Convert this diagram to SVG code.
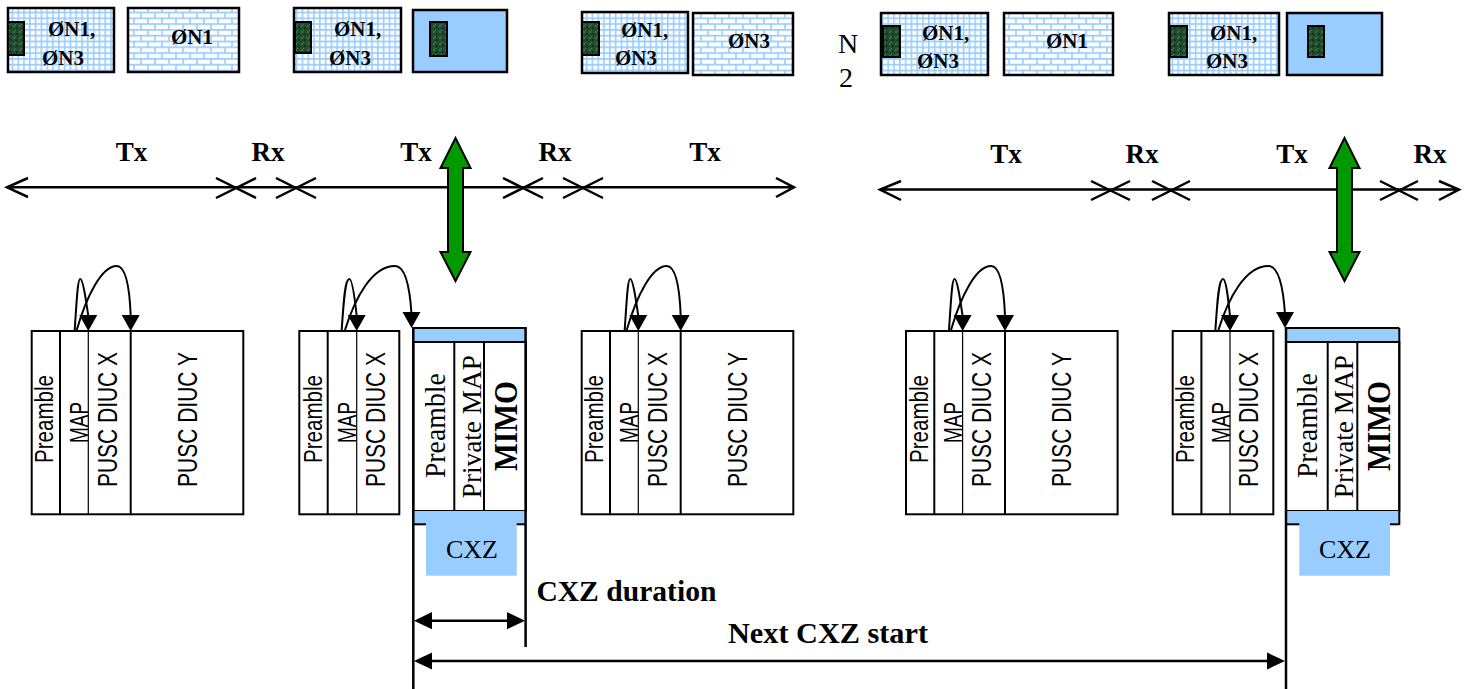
<svg xmlns="http://www.w3.org/2000/svg" width="1468" height="689" viewBox="0 0 1468 689">
<style>
.bx{stroke:#000;stroke-width:2.5}
.grid{fill:url(#grid)}
.brick{fill:url(#brick)}
.blue{fill:#99ccff}
.moss{fill:url(#moss);stroke:#000;stroke-width:2}
.bt{font-family:"Liberation Serif",serif;font-weight:bold;font-size:21px;fill:#000}
.lbl{font-family:"Liberation Serif",serif;font-weight:bold;font-size:27px;fill:#000;text-anchor:middle}
.big{font-family:"Liberation Serif",serif;font-weight:bold;font-size:30px;fill:#000}
.nn{font-family:"Liberation Serif",serif;font-size:28px;fill:#000;text-anchor:middle}
.blk{fill:#fff;stroke:#000;stroke-width:2}
.dv{stroke:#000;stroke-width:2}
.dvt{stroke:#000;stroke-width:1.2}
.sans{font-family:"Liberation Sans",Arial,sans-serif;fill:#000;text-anchor:middle}
.ser{font-family:"Liberation Serif",serif;fill:#000;text-anchor:middle}
.ln{stroke:#000;stroke-width:2.5;fill:none}
.cv{stroke:#000;stroke-width:2;fill:none}
.ga{fill:#009900;stroke:#000;stroke-width:2}
.ah{fill:#000}
</style>
<defs>
<pattern id="grid" width="5.8" height="5.8" patternUnits="userSpaceOnUse">
<rect width="5.8" height="5.8" fill="#fff"/>
<path d="M0,0.8H5.8M0.8,0V5.8" stroke="#99ccff" stroke-width="1.6"/>
</pattern>
<pattern id="brick" width="14" height="11.6" patternUnits="userSpaceOnUse">
<rect width="14" height="11.6" fill="#fff"/>
<path d="M0,0.8H14M0,6.6H14M1,0.8V6.6M8,6.6V11.6" stroke="#99ccff" stroke-width="1.6"/>
</pattern>
<pattern id="moss" width="6" height="6" patternUnits="userSpaceOnUse">
<rect width="6" height="6" fill="#1f4a2c"/>
<rect x="1" y="1" width="2" height="2" fill="#3b6e4a"/>
<rect x="4" y="3" width="1.5" height="2" fill="#0f2e19"/>
<rect x="3" y="0" width="1" height="1" fill="#4f8060"/>
</pattern>
<path id="ahd" d="M-9,-16 L9,-16 L0,0 Z"/>
</defs>

<!-- top boxes -->
<g id="box1"><rect class="bx grid" x="8" y="8" width="106" height="64"/><rect class="moss" x="8" y="22" width="16" height="33"/><text class="bt" x="48" y="36">ØN1,</text><text class="bt" x="42" y="65">ØN3</text></g>
<g id="box2"><rect class="bx brick" x="128" y="8" width="111" height="64"/><text class="bt" x="171" y="44">ØN1</text></g>
<g id="box3"><rect class="bx grid" x="294" y="8" width="107" height="64"/><rect class="moss" x="295" y="22" width="16" height="31"/><text class="bt" x="334" y="36">ØN1,</text><text class="bt" x="329" y="65">ØN3</text></g>
<g id="box4"><rect class="bx blue" x="413" y="10" width="94" height="62"/><rect class="moss" x="430" y="22" width="17" height="34"/></g>
<g id="box5"><rect class="bx grid" x="582" y="12" width="106" height="61"/><rect class="moss" x="582" y="22" width="17" height="33"/><text class="bt" x="621" y="37">ØN1,</text><text class="bt" x="615" y="65">ØN3</text></g>
<g id="box6"><rect class="bx brick" x="693" y="13" width="100" height="62"/><text class="bt" x="728" y="48">ØN3</text></g>
<g id="n2"><text class="nn" x="848" y="53">N</text><text class="nn" x="846" y="87">2</text></g>
<g id="box7"><rect class="bx grid" x="881" y="13" width="107" height="62"/><rect class="moss" x="883" y="26" width="17" height="31"/><text class="bt" x="922" y="40">ØN1,</text><text class="bt" x="917" y="68">ØN3</text></g>
<g id="box8"><rect class="bx brick" x="1004" y="13" width="109" height="62"/><text class="bt" x="1046" y="48">ØN1</text></g>
<g id="box9"><rect class="bx grid" x="1169" y="13" width="110" height="62"/><rect class="moss" x="1170" y="26" width="17" height="31"/><text class="bt" x="1210" y="40">ØN1,</text><text class="bt" x="1206" y="68">ØN3</text></g>
<g id="box10"><rect class="bx blue" x="1287" y="13" width="95" height="62"/><rect class="moss" x="1308" y="26" width="16" height="31"/></g>

<!-- timeline labels -->
<g id="labels1">
<text class="lbl" x="131.5" y="161">Tx</text><text class="lbl" x="268" y="161">Rx</text><text class="lbl" x="416" y="161">Tx</text><text class="lbl" x="555" y="161">Rx</text><text class="lbl" x="705" y="161">Tx</text>
</g>
<g id="labels2">
<text class="lbl" x="1006" y="163">Tx</text><text class="lbl" x="1142" y="163">Rx</text><text class="lbl" x="1292" y="163">Tx</text><text class="lbl" x="1430" y="163">Rx</text>
</g>

<!-- frame blocks -->
<g id="frameA">
<rect class="blk" x="31.7" y="331" width="211.6" height="183.3"/>
<line class="dv" x1="60" y1="331" x2="60" y2="514"/><line class="dvt" x1="88.3" y1="331" x2="88.3" y2="514"/><line class="dv" x1="130.7" y1="331" x2="130.7" y2="514"/>
<text class="sans" font-size="22" textLength="88" lengthAdjust="spacingAndGlyphs" transform="translate(53.3,419) rotate(-90) scale(1,1.2)">Preamble</text>
<text class="sans" font-size="22" textLength="41" lengthAdjust="spacingAndGlyphs" transform="translate(88,422.5) rotate(-90) scale(1,1.15)">MAP</text>
<text class="sans" font-size="25" textLength="135" lengthAdjust="spacingAndGlyphs" transform="translate(117,419.5) rotate(-90) scale(1,1.1)">PUSC DIUC X</text>
<text class="sans" font-size="25" textLength="135" lengthAdjust="spacingAndGlyphs" transform="translate(196.7,419.5) rotate(-90) scale(1,1.1)">PUSC DIUC Y</text>
</g>
<g id="frameB">
<rect class="blk" x="299.3" y="331" width="100" height="183.3"/>
<line class="dv" x1="327.7" y1="331" x2="327.7" y2="514"/><line class="dvt" x1="356.7" y1="331" x2="356.7" y2="514"/>
<text class="sans" font-size="22" textLength="88" lengthAdjust="spacingAndGlyphs" transform="translate(321.7,419) rotate(-90) scale(1,1.2)">Preamble</text>
<text class="sans" font-size="22" textLength="41" lengthAdjust="spacingAndGlyphs" transform="translate(356.4,422.5) rotate(-90) scale(1,1.15)">MAP</text>
<text class="sans" font-size="25" textLength="135" lengthAdjust="spacingAndGlyphs" transform="translate(385,419.5) rotate(-90) scale(1,1.1)">PUSC DIUC X</text>
</g>
<g id="frameC">
<rect class="blue" x="413.3" y="328" width="112.7" height="14"/>
<rect class="blk" x="413.3" y="342" width="112.7" height="169"/>
<rect class="blue" x="413.3" y="511" width="112.7" height="13.3"/>
<rect class="blue" x="426" y="524" width="90.7" height="51.7"/>
<line class="dv" x1="413.3" y1="328" x2="526" y2="328"/>
<line class="dv" x1="413.3" y1="524.3" x2="426" y2="524.3"/><line class="dv" x1="516.7" y1="524.3" x2="526" y2="524.3"/>
<line class="dv" x1="454.3" y1="342" x2="454.3" y2="511"/><line class="dv" x1="484" y1="342" x2="484" y2="511"/>
<text class="ser" font-size="29" textLength="105" lengthAdjust="spacingAndGlyphs" transform="translate(445,425.6) rotate(-90) scale(1,1.05)">Preamble</text>
<text class="ser" font-size="28" textLength="143" lengthAdjust="spacingAndGlyphs" transform="translate(480.7,426.7) rotate(-90)">Private MAP</text>
<text class="ser" font-size="32" font-weight="bold" textLength="90" lengthAdjust="spacingAndGlyphs" transform="translate(516.7,426) rotate(-90) scale(1,1.05)">MIMO</text>
<text class="ser" font-size="26" textLength="52" lengthAdjust="spacingAndGlyphs" x="472" y="558.3">CXZ</text>
</g>
<g id="frameG">
<rect class="blk" x="581.7" y="331" width="211.6" height="183.3"/>
<line class="dv" x1="610" y1="331" x2="610" y2="514"/><line class="dvt" x1="638.3" y1="331" x2="638.3" y2="514"/><line class="dv" x1="680.7" y1="331" x2="680.7" y2="514"/>
<text class="sans" font-size="22" textLength="88" lengthAdjust="spacingAndGlyphs" transform="translate(603.3,419) rotate(-90) scale(1,1.2)">Preamble</text>
<text class="sans" font-size="22" textLength="41" lengthAdjust="spacingAndGlyphs" transform="translate(638,422.5) rotate(-90) scale(1,1.15)">MAP</text>
<text class="sans" font-size="25" textLength="135" lengthAdjust="spacingAndGlyphs" transform="translate(667,419.5) rotate(-90) scale(1,1.1)">PUSC DIUC X</text>
<text class="sans" font-size="25" textLength="135" lengthAdjust="spacingAndGlyphs" transform="translate(746.7,419.5) rotate(-90) scale(1,1.1)">PUSC DIUC Y</text>
</g>
<g id="frameF">
<rect class="blk" x="906" y="331" width="211.6" height="183.3"/>
<line class="dv" x1="934.3" y1="331" x2="934.3" y2="514"/><line class="dvt" x1="962.6" y1="331" x2="962.6" y2="514"/><line class="dv" x1="1005" y1="331" x2="1005" y2="514"/>
<text class="sans" font-size="22" textLength="88" lengthAdjust="spacingAndGlyphs" transform="translate(927.6,419) rotate(-90) scale(1,1.2)">Preamble</text>
<text class="sans" font-size="22" textLength="41" lengthAdjust="spacingAndGlyphs" transform="translate(962.3,422.5) rotate(-90) scale(1,1.15)">MAP</text>
<text class="sans" font-size="25" textLength="135" lengthAdjust="spacingAndGlyphs" transform="translate(991.3,419.5) rotate(-90) scale(1,1.1)">PUSC DIUC X</text>
<text class="sans" font-size="25" textLength="135" lengthAdjust="spacingAndGlyphs" transform="translate(1071,419.5) rotate(-90) scale(1,1.1)">PUSC DIUC Y</text>
</g>
<g id="frameD">
<rect class="blk" x="1172.7" y="331" width="100.6" height="183.3"/>
<line class="dv" x1="1201.4" y1="331" x2="1201.4" y2="514"/><line class="dvt" x1="1230" y1="331" x2="1230" y2="514"/>
<text class="sans" font-size="22" textLength="88" lengthAdjust="spacingAndGlyphs" transform="translate(1194,419) rotate(-90) scale(1,1.2)">Preamble</text>
<text class="sans" font-size="22" textLength="41" lengthAdjust="spacingAndGlyphs" transform="translate(1229.7,422.5) rotate(-90) scale(1,1.15)">MAP</text>
<text class="sans" font-size="25" textLength="135" lengthAdjust="spacingAndGlyphs" transform="translate(1258.3,419.5) rotate(-90) scale(1,1.1)">PUSC DIUC X</text>
</g>
<g id="frameE">
<rect class="blue" x="1286" y="328" width="113.3" height="14"/>
<rect class="blk" x="1286" y="342" width="113.3" height="169"/>
<rect class="blue" x="1286" y="511" width="113.3" height="13.3"/>
<rect class="blue" x="1299.3" y="524" width="90.7" height="51.7"/>
<line class="dv" x1="1286" y1="328" x2="1399.3" y2="328"/>
<line class="dv" x1="1399.3" y1="328" x2="1399.3" y2="525"/>
<line class="dv" x1="1286" y1="524.3" x2="1299.3" y2="524.3"/><line class="dv" x1="1390" y1="524.3" x2="1399.3" y2="524.3"/>
<line class="dv" x1="1327.7" y1="342" x2="1327.7" y2="511"/><line class="dv" x1="1357.3" y1="342" x2="1357.3" y2="511"/>
<text class="ser" font-size="29" textLength="105" lengthAdjust="spacingAndGlyphs" transform="translate(1316.7,425.6) rotate(-90) scale(1,1.05)">Preamble</text>
<text class="ser" font-size="28" textLength="143" lengthAdjust="spacingAndGlyphs" transform="translate(1353.3,426.7) rotate(-90)">Private MAP</text>
<text class="ser" font-size="32" font-weight="bold" textLength="90" lengthAdjust="spacingAndGlyphs" transform="translate(1390,426) rotate(-90) scale(1,1.05)">MIMO</text>
<text class="ser" font-size="26" textLength="52" lengthAdjust="spacingAndGlyphs" x="1345" y="558.3">CXZ</text>
</g>

<g id="dimtext">
<text class="big" x="536.4" y="600.7" textLength="180" lengthAdjust="spacingAndGlyphs">CXZ duration</text>
<text class="big" x="728" y="642.7" textLength="200" lengthAdjust="spacingAndGlyphs">Next CXZ start</text>
</g>

<!-- connectors -->
<g id="connectors">
<path class="ln" d="M7,187.3H794M28,178L7,187.3L28,197M776,178L794,187.3L776,197"/>
<path class="ln" d="M216,178L256,198M216,198L256,178M276,178L316,198M276,198L316,178M503,178L543,198M503,198L543,178M563,178L603,198M563,198L603,178"/>
<path class="ln" d="M880,189.5H1459M901,181L880,189.5L901,200M1439,181L1459,189.5L1439,200"/>
<path class="ln" d="M1091,181L1130,200M1091,200L1130,181M1152,181L1190,200M1152,200L1190,181M1380,181L1418,200M1380,200L1418,181"/>
<path class="ga" d="M455.5,138L470.5,168L463,168L463,252L470.5,252L455.5,281L440.5,252L448,252L448,168L440.5,168Z"/>
<path class="ga" d="M1344.5,138L1359.5,168L1352,168L1352,252L1359.5,252L1344.5,281L1329.5,252L1337,252L1337,168L1329.5,168Z"/>
<path class="cv" d="M74.7,330C76.7,300 77.7,279 80.2,279C83,279 86,300 88.3,316"/>
<path class="cv" d="M76.7,330C86.7,296 101.7,266 116.7,266C126.7,266 129.7,290 130.7,316"/>
<use href="#ahd" class="ah" x="88.3" y="331"/><use href="#ahd" class="ah" x="130.7" y="331"/>
<path class="cv" d="M341.7,330C343.7,300 345,279 349.3,279C352.5,279 355,300 356.7,316"/>
<path class="cv" d="M345,330C355,298 372,266 395,266C406,266 410,290 411.5,314"/>
<use href="#ahd" class="ah" x="356.7" y="331"/><use href="#ahd" class="ah" x="411.5" y="328"/>
<path class="cv" d="M624.7,330C626.7,300 627.7,279 630.2,279C633,279 636,300 638.3,316"/>
<path class="cv" d="M626.7,330C636.7,296 651.7,266 666.7,266C676.7,266 679.7,290 680.7,316"/>
<use href="#ahd" class="ah" x="638.3" y="331"/><use href="#ahd" class="ah" x="680.7" y="331"/>
<path class="cv" d="M949,330C951,300 952,279 954.5,279C957.3,279 960.3,300 962.6,316"/>
<path class="cv" d="M951,330C961,296 976,266 991,266C1001,266 1004,290 1005,316"/>
<use href="#ahd" class="ah" x="962.6" y="331"/><use href="#ahd" class="ah" x="1005" y="331"/>
<path class="cv" d="M1215.4,330C1217.4,300 1218.7,279 1223,279C1226.2,279 1228.3,300 1230,316"/>
<path class="cv" d="M1218.4,330C1228.4,298 1245.4,266 1268.4,266C1279.4,266 1283.4,290 1285,314"/>
<use href="#ahd" class="ah" x="1230" y="331"/><use href="#ahd" class="ah" x="1285" y="328"/>
<path class="ln" d="M413.3,327V689M525.6,327V647M1286,327V689"/>
<path class="ln" d="M430,620.7H509M430,661H1270"/>
<path class="ah" d="M414,620.7L432,612L432,629.3Z M525,620.7L507,612L507,629.3Z M414,661L432,652.5L432,669.5Z M1285,661L1267,652.5L1267,669.5Z"/>
</g>
</svg>
